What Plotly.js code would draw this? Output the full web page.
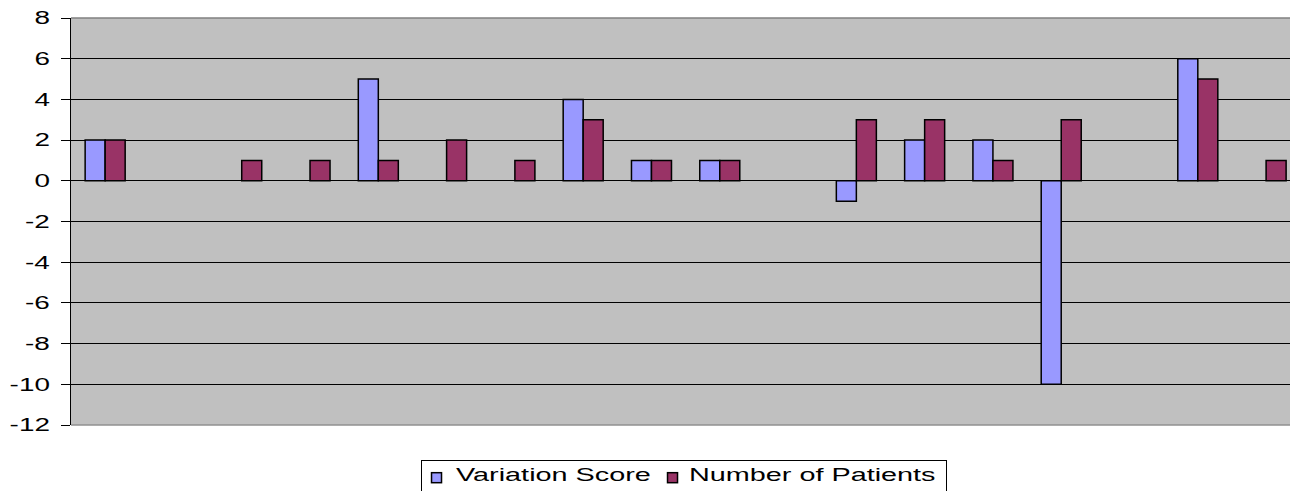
<!DOCTYPE html>
<html>
<head>
<meta charset="utf-8">
<script src="https://cdn.plot.ly/plotly-3.0.1.min.js"></script>
<style>html,body{margin:0;padding:0;background:#fff;overflow:hidden}#chart{width:1290px;height:491px}</style>
</head>
<body>
<div id="chart"></div>
<script>
const categories = ["1","2","3","4","5","6","7","8","9","10","11","12","13","14","15","16","17","18"];
const variationScore = [2, null, null, null, 5, null, null, 4, 1, 1, null, -1, 2, 2, -10, null, 6, null];
const numberOfPatients = [2, null, 1, 1, 1, 2, 1, 3, 1, 1, null, 3, 3, 1, 3, null, 5, 1];
const yTicks = [-12, -10, -8, -6, -4, -2, 0, 2, 4, 6, 8];
const seriesNames = ["Variation Score", "Number of Patients"];
const seriesColors = ["#9999FF", "#993366"];

const TICK_STRETCH = 1.55;
const LEGEND_STRETCH = 1.6;
const font = {family: "Liberation Sans, Arial, sans-serif", size: 18, color: "#000"};
const traces = [
  {type: "bar", name: seriesNames[0], x: categories, y: variationScore,
   marker: {color: seriesColors[0], line: {color: "#000", width: 1.5}}},
  {type: "bar", name: seriesNames[1], x: categories, y: numberOfPatients,
   marker: {color: seriesColors[1], line: {color: "#000", width: 1.5}}}
];
const layout = {
  width: 1290, height: 491,
  margin: {l: 71, r: 0, t: 18, b: 66, autoexpand: false},
  paper_bgcolor: "#fff", plot_bgcolor: "#C0C0C0",
  font: font,
  barmode: "group", bargap: 0.414, bargroupgap: 0,
  showlegend: true,
  legend: {orientation: "h", x: 0.28, xanchor: "left", y: -0.085, yanchor: "top",
           bordercolor: "#000", borderwidth: 1, font: font, traceorder: "normal"},
  xaxis: {type: "category", range: [-0.5, 17.35], showticklabels: false, ticks: "",
          showgrid: false, zeroline: false, showline: false, fixedrange: true},
  yaxis: {range: [-12, 8], tickvals: yTicks, ticktext: yTicks.map(String),
          ticks: "outside", ticklen: 9, tickcolor: "#000", tickwidth: 1,
          showline: true, linecolor: "#000", linewidth: 1.5,
          showgrid: true, gridcolor: "#000", gridwidth: 1,
          zeroline: true, zerolinecolor: "#000", zerolinewidth: 1,
          ticklabelstandoff: 7, tickfont: font, fixedrange: true},
  shapes: [
    {type: "line", xref: "paper", yref: "paper", x0: 0, x1: 1, y0: 1, y1: 1,
     line: {color: "#808080", width: 1.5}, layer: "above"},
    {type: "line", xref: "paper", yref: "paper", x0: 0, x1: 1, y0: 0, y1: 0,
     line: {color: "#909090", width: 1.5}, layer: "above"}
  ]
};

const SVGNS = "http://www.w3.org/2000/svg";

function stretchText(t, s) {
  const w = t.getComputedTextLength();
  t.setAttribute("textLength", (w * s).toFixed(1));
  t.setAttribute("lengthAdjust", "spacingAndGlyphs");
}

function adjust(gd) {
  gd.querySelectorAll("g.ytick text").forEach(t => stretchText(t, TICK_STRETCH));

  const leg = gd.querySelector("g.legend");
  if (!leg) return;
  leg.querySelectorAll("[clip-path]").forEach(el => el.removeAttribute("clip-path"));
  const lm = leg.getCTM();
  const Lx = lm.e, Ly = lm.f;
  const bg = leg.querySelector("rect.bg");
  if (bg) {
    bg.setAttribute("x", (421.5 - Lx).toFixed(1));
    bg.setAttribute("y", (460.5 - Ly).toFixed(1));
    bg.setAttribute("width", "524.5");
    bg.setAttribute("height", "40");
  }
  const symX = [436.5, 672.5];
  const symY = 477.7;
  const textX = [456, 689];
  leg.querySelectorAll("g.traces").forEach((it, i) => {
    const pts = it.querySelector(".legendpoints");
    const txt = it.querySelector("text.legendtext");
    const im = it.getCTM();
    const pm = it.parentNode.getCTM();
    // place the entry origin at the symbol centre
    it.setAttribute("transform", "translate(" + (symX[i] - pm.e).toFixed(1) + "," + (symY - pm.f).toFixed(1) + ")");
    // replace the symbol with a small square swatch
    while (pts.firstChild) pts.removeChild(pts.firstChild);
    pts.removeAttribute("transform");
    const sq = document.createElementNS(SVGNS, "rect");
    sq.setAttribute("x", "-5"); sq.setAttribute("y", "-5");
    sq.setAttribute("width", "10"); sq.setAttribute("height", "10");
    sq.setAttribute("fill", seriesColors[i]);
    sq.setAttribute("stroke", "#000"); sq.setAttribute("stroke-width", "1.5");
    pts.appendChild(sq);
    if (txt) {
      stretchText(txt, LEGEND_STRETCH);
      txt.setAttribute("x", (textX[i] - symX[i]).toFixed(1));
      const tb = txt.getBoundingClientRect();
      const capTop = 468, capBottom = 481;
      const curMid = tb.y + tb.height * 0.47;
      const want = (capTop + capBottom) / 2;
      const y0 = parseFloat(txt.getAttribute("y") || "0");
      txt.setAttribute("y", (y0 + (want - curMid)).toFixed(1));
    }
  });
}

Plotly.newPlot("chart", traces, layout, {displayModeBar: false, staticPlot: true})
  .then(gd => (document.fonts ? document.fonts.ready : Promise.resolve()).then(() => adjust(gd)));
</script>
</body>
</html>
